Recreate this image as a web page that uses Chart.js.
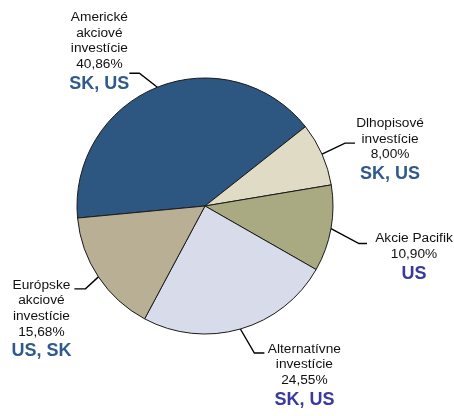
<!DOCTYPE html>
<html lang="sk">
<head>
    <meta charset="UTF-8">
    <title>Rozdelenie investícií</title>
    <script src="https://cdn.jsdelivr.net/npm/chart.js"></script>
    <style>
        body {
            margin: 0;
            background: #fff;
        }
        #chart-container {
            width: 454px;
            height: 416px;
            position: relative;
        }
    </style>
</head>
<body>
    <div id="chart-container">
        <canvas id="pieChart"></canvas>
    </div>

    <script>
        // Data
        const categories = [
            ['Americké', 'akciové', 'investície'],
            ['Dlhopisové', 'investície'],
            ['Akcie Pacifik'],
            ['Alternatívne', 'investície'],
            ['Európske', 'akciové', 'investície'],
        ];
        const shares = [40.86, 8.00, 10.90, 24.55, 15.68];
        const regions = ['SK, US', 'SK, US', 'US', 'SK, US', 'US, SK'];

        const sliceColors = ['#2D5781', '#DFDBC5', '#A9A982', '#D8DBEA', '#B8AF94'];
        const regionColors = ['#2F5B8C', '#2F5B8C', '#3A3A9E', '#3A3A9E', '#2F5B8C'];

        // leader line: knee offset from slice edge, horizontal run, text offset from line end
        const labelLayout = [
            { knee: [-18, -14], run: -10, text: [-30, -56] },
            { knee: [23, -11], run: 10, text: [35, -20] },
            { knee: [28, 15], run: 8, text: [47, -5] },
            { knee: [14, 24], run: 10, text: [40, -4] },
            { knee: [-13, 12], run: -11, text: [-33, -4] },
        ];

        const fmtPct = v => v.toFixed(2).replace('.', ',') + '%';

        const calloutPlugin = {
            id: 'callouts',
            afterDatasetsDraw(chart) {
                const ctx = chart.ctx;
                const arcs = chart.getDatasetMeta(0).data;
                ctx.save();
                arcs.forEach((arc, i) => {
                    const mid = (arc.startAngle + arc.endAngle) / 2;
                    const ex = arc.x + Math.cos(mid) * arc.outerRadius;
                    const ey = arc.y + Math.sin(mid) * arc.outerRadius;
                    const lay = labelLayout[i];
                    const kx = ex + lay.knee[0];
                    const ky = ey + lay.knee[1];
                    const endX = kx + lay.run;

                    ctx.strokeStyle = '#000';
                    ctx.lineWidth = 1.4;
                    ctx.beginPath();
                    ctx.moveTo(ex, ey);
                    ctx.lineTo(kx, ky);
                    ctx.lineTo(endX, ky);
                    ctx.stroke();

                    const tx = endX + lay.text[0];
                    let ty = ky + lay.text[1];
                    ctx.textAlign = 'center';
                    ctx.textBaseline = 'middle';
                    ctx.fillStyle = '#111';
                    ctx.font = '13.7px "Liberation Sans", Arial, sans-serif';
                    const lines = categories[i].concat([fmtPct(shares[i])]);
                    lines.forEach((line, j) => {
                        ctx.fillText(line, tx, ty + j * 15.7);
                    });
                    ty += (lines.length - 1) * 15.7 + 19.5;
                    ctx.fillStyle = regionColors[i];
                    ctx.font = 'bold 18px "Liberation Sans", Arial, sans-serif';
                    ctx.fillText(regions[i], tx, ty);
                });
                ctx.restore();
            }
        };

        const ctxPie = document.getElementById('pieChart').getContext('2d');
        const chartPie = new Chart(ctxPie, {
            type: 'pie',
            data: {
                labels: categories.map(c => c.join(' ')),
                datasets: [{
                    data: shares,
                    backgroundColor: sliceColors,
                    borderColor: '#1a1a1a',
                    borderWidth: 1,
                }],
            },
            options: {
                responsive: true,
                maintainAspectRatio: false,
                animation: false,
                rotation: -95.4,
                layout: {
                    padding: { left: 76.5, top: 77.5, right: 120.5, bottom: 81.5 },
                },
                plugins: {
                    legend: { display: false },
                    tooltip: { enabled: false },
                },
            },
            plugins: [calloutPlugin],
        });
    </script>
</body>
</html>
